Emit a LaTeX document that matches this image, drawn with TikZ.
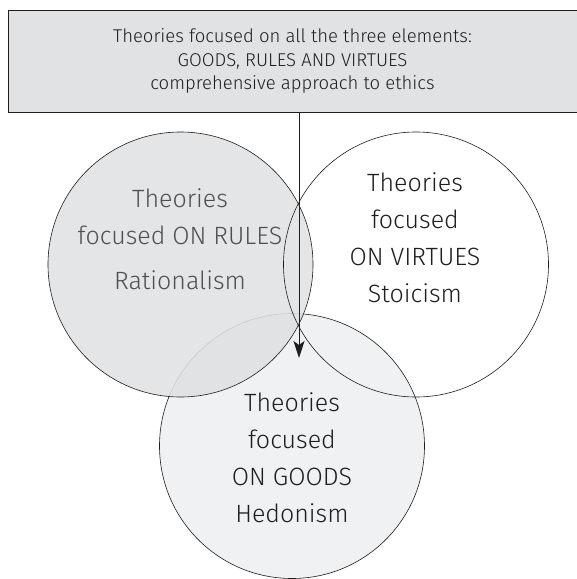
\documentclass[tikz,border=0pt]{standalone}
\usepackage{fontspec}
\setmainfont{Fira Sans Light}
\usepackage{tikz}
\usetikzlibrary{arrows.meta, positioning, calc}

\definecolor{boxgray}{RGB}{225, 226, 227}
\definecolor{rulesgray}{RGB}{224, 225, 227}
\definecolor{goodsgray}{RGB}{240, 241, 242}
\definecolor{inkdark}{RGB}{30, 30, 30}
\definecolor{inkmid}{RGB}{80, 80, 80}

\begin{document}
\begin{tikzpicture}[
  x=1pt, y=-1pt,
  ring/.style={draw=inkdark, circle, minimum size=265pt, inner sep=0pt, line width=0.6pt},
  lbl/.style={font=\fontsize{25}{37}\selectfont, align=center, text=inkdark},
  arr/.style={-{Stealth[length=17pt, width=11pt, inset=4pt]}, line width=0.9pt, inkdark}
]
  \useasboundingbox (0,0) rectangle (577,579);

  % --- Header box ---
  \node[draw=inkdark, fill=boxgray, line width=0.8pt, minimum width=569pt, minimum height=102pt,
        inner sep=0pt, align=center, text=inkdark, font=\fontsize{18.5}{23.5}\selectfont]
        (topbox) at (292.5, 61)
        {Theories focused on all the three elements:\\GOODS, RULES AND VIRTUES\\comprehensive approach to ethics};

  % --- Three circles ---
  \node[ring, fill=goodsgray] (goods) at (292, 446) {};
  \node[ring, fill=rulesgray, fill opacity=0.88] (rules) at (180.5, 264.5) {};
  \node[ring] (virtues) at (416, 264.5) {};

  % --- Circle texts ---
  \node[lbl, text=inkmid] (rulestxt) at (180, 239)
        {Theories\\focused ON RULES\\[8pt]Rationalism};
  \node[lbl] (virtuestxt) at (415, 238) {Theories\\focused\\ON VIRTUES\\Stoicism};
  \node[lbl] (goodstxt) at (292, 458) {Theories\\focused\\ON GOODS\\Hedonism};

  % --- Arrow from the header into the overlap ---
  \coordinate (arrowend) at (299, 358);
  \draw[arr] (topbox.south -| arrowend) -- (arrowend);
\end{tikzpicture}
\end{document}
